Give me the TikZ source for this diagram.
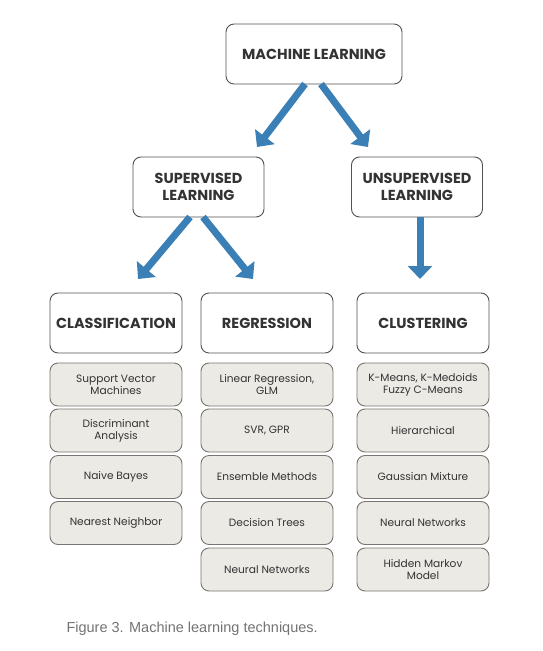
\documentclass[tikz,border=0pt]{standalone}
\usepackage{fontspec}
\setmainfont{Liberation Sans}
\newfontfamily\boxfont{Poppins}
\usetikzlibrary{arrows.meta}
\definecolor{arrowblue}{HTML}{3A7FB5}
\definecolor{leaffill}{HTML}{ECEAE5}
\definecolor{leafline}{HTML}{7A7470}
\definecolor{textgrey}{HTML}{333333}
\newcommand{\drawhead}{\node[draw=textgrey!85,fill=white,rounded corners=8pt,line width=0.9pt,text=textgrey,font=\boxfont\bfseries\fontsize{14.5}{17}\selectfont,align=center,minimum height=60pt]}
\newcommand{\drawleaf}{\node[draw=leafline,fill=leaffill,rounded corners=8pt,line width=0.9pt,text=textgrey,font=\boxfont\fontsize{10.6}{12}\selectfont,align=center,minimum width=132pt,minimum height=43pt]}
\newcommand{\drawdummy}{\coordinate}

\begin{document}
\begin{tikzpicture}[x=1pt, y=-1pt, fat/.style={arrowblue, line width=7pt, -{Triangle[width=24pt,length=13pt]}}]
%machine learning overview, three levels
\useasboundingbox (0,0) rectangle (542,651);

\drawhead[minimum width=176pt] (ml) at (314,54) {MACHINE LEARNING};
\drawhead[minimum width=131pt] (sup) at (198.5,187) {SUPERVISED\\LEARNING};
\drawhead[minimum width=131pt] (unsup) at (417,187) {UNSUPERVISED\\LEARNING};
\drawhead[minimum width=132pt] (cls) at (116,323) {CLASSIFICATION};
\drawhead[minimum width=132pt] (reg) at (267,323) {REGRESSION};
\drawhead[minimum width=132pt] (clu) at (423,323) {CLUSTERING};

\drawleaf (cls1) at (116,384.5) {Support Vector\\Machines};
\drawleaf (cls2) at (116,430.5) {Discriminant\\Analysis};
\drawleaf (cls3) at (116,477) {Naive Bayes};
\drawleaf (cls4) at (116,523) {Nearest Neighbor};

\drawleaf (reg1) at (267,384.5) {Linear Regression,\\GLM};
\drawleaf (reg2) at (267,430.5) {SVR, GPR};
\drawleaf (reg3) at (267,477) {Ensemble Methods};
\drawleaf (reg4) at (267,523) {Decision Trees};
\drawleaf (reg5) at (267,569.5) {Neural Networks};

\drawleaf (clu1) at (423,384.5) {K-Means, K-Medoids\\Fuzzy C-Means};
\drawleaf (clu2) at (423,430.5) {Hierarchical};
\drawleaf (clu3) at (423,477) {Gaussian Mixture};
\drawleaf (clu4) at (423,523) {Neural Networks};
\drawleaf (clu5) at (423,569.5) {Hidden Markov\\Model};

\drawdummy (mlL) at (305,84);
\drawdummy (mlR) at (321,84);
\drawdummy (supIn) at (257,147);
\drawdummy (unsupIn) at (368,147);
\drawdummy (supL) at (190,217);
\drawdummy (supR) at (203,217);
\drawdummy (clsIn) at (138,279);
\drawdummy (regIn) at (253,279);
\drawdummy (unsupOut) at (420,217);
\drawdummy (cluIn) at (420,279);

\draw[fat] (mlL) to (supIn);
\draw[fat] (mlR) to (unsupIn);
\draw[fat] (supL) to (clsIn);
\draw[fat] (supR) to (regIn);
\draw[fat] (unsupOut) to (cluIn);

\node[anchor=west, text=black!55, font=\fontsize{14.5}{17}\selectfont] (caption) at (63,629) {Figure 3. Machine learning techniques.};
\end{tikzpicture}
\end{document}
